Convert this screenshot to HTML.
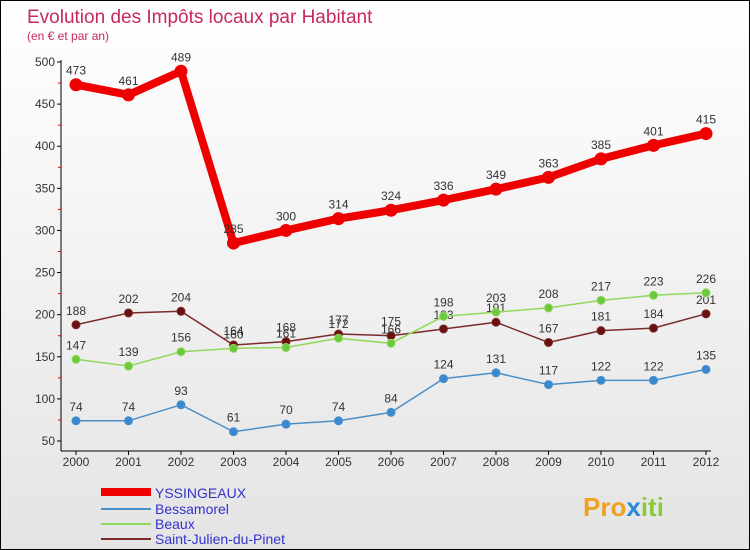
<!DOCTYPE html>
<html><head><meta charset="utf-8"><style>
body{margin:0}
#c{width:748px;height:548px;border:1px solid #000;position:relative;background:linear-gradient(#fff,#e4e4e4);font-family:"Liberation Sans",sans-serif;overflow:hidden}
svg text{font-family:"Liberation Sans",sans-serif}
</style></head><body>
<div id="c">
<svg id="s" width="748" height="548">
<text x="26" y="22" font-size="19" fill="#c8285a">Evolution des Impôts locaux par Habitant</text>
<text x="26" y="39" font-size="12" fill="#c8285a">(en € et par an)</text>
<g id="ax"></g><g id="ser"></g>
<g>
<rect x="100" y="487" width="50" height="8" fill="#e00"/>
<text x="154" y="497" font-size="14" fill="#33c">YSSINGEAUX</text>
<rect x="100" y="507" width="50" height="2" fill="#4a90c8"/>
<text x="154" y="513" font-size="14" fill="#33c">Bessamorel</text>
<rect x="100" y="522" width="50" height="2" fill="#8fd85a"/>
<text x="154" y="528" font-size="14" fill="#33c">Beaux</text>
<rect x="100" y="537" width="50" height="2" fill="#7a2a2a"/>
<text x="154" y="543" font-size="14" fill="#33c">Saint-Julien-du-Pinet</text>
</g>
<text x="582" y="515" font-size="26" font-weight="bold" fill="#f0a020">Pro<tspan fill="#2a8ad8">x</tspan><tspan fill="#8cc83c">iti</tspan></text>
</svg></div>
<script>
const years=[2000,2001,2002,2003,2004,2005,2006,2007,2008,2009,2010,2011,2012];
const yTicks=[50,100,150,200,250,300,350,400,450,500];
const yss=[473,461,489,285,300,314,324,336,349,363,385,401,415];
const bes=[74,74,93,61,70,74,84,124,131,117,122,122,135];
const bea=[147,139,156,160,161,172,166,198,203,208,217,223,226];
const sjp=[188,202,204,164,168,177,175,183,191,167,181,184,201];
const NS='http://www.w3.org/2000/svg';
const X=i=>75+i*52.5, Y=v=>61+(500-v)*379/450;
function mk(t,a,p){const e=document.createElementNS(NS,t);for(const k in a)e.setAttribute(k,a[k]);p.appendChild(e);return e;}
const ax=document.getElementById('ax');
let l=mk('line',{x1:60,y1:Y(500)-2,x2:60,y2:450,stroke:'#000'},ax);


l=mk('line',{x1:60,y1:450,x2:710,y2:450,stroke:'#000'},ax);


yTicks.forEach(v=>{
 let t=mk('line',{x1:56,y1:Y(v),x2:60,y2:Y(v),stroke:'#000'},ax);
 
 
 if(v<500){let m=mk('line',{x1:57,y1:Y(v+25),x2:60,y2:Y(v+25),stroke:'#e00'},ax);
 
 }
 let tx=mk('text',{x:54,y:Y(v)+4,'font-size':12,'text-anchor':'end',fill:'#333'},ax);tx.textContent=v;
 
 
});
years.forEach((y,i)=>{
 let t=mk('line',{x1:X(i),y1:450,x2:X(i),y2:454,stroke:'#000'},ax);
 
 
 let tx=mk('text',{x:X(i),y:465,'font-size':12,'text-anchor':'middle',fill:'#333'},ax);tx.textContent=y;
 
 
});
const ser=document.getElementById('ser');
function draw(d,col,dot,w,r,name){
 const g=mk('g',{},ser);
 
 
 const p=mk('polyline',{points:d.map((v,i)=>X(i)+','+Y(v)).join(' '),fill:'none',stroke:col,'stroke-width':w,'stroke-linejoin':'round'},g);
 
 
 d.forEach((v,i)=>{
  const c=mk('circle',{cx:X(i),cy:Y(v),r:r,fill:dot,stroke:col,'stroke-width':1},g);
  
  
  const t=mk('text',{x:X(i),y:Y(v)-10,'font-size':12,'text-anchor':'middle',fill:'#333'},g);t.textContent=v;
  
  
 });
}
draw(sjp,'#7a2a2a','#6a1010',1.5,4,'saint-julien');
draw(bea,'#8fd85a','#6cc83c',1.5,4,'beaux');
draw(bes,'#4a90c8','#3a88d0',1.5,4,'bessamorel');
draw(yss,'#e00','#e00',8,6,'yssingeaux');
</script></body></html>
